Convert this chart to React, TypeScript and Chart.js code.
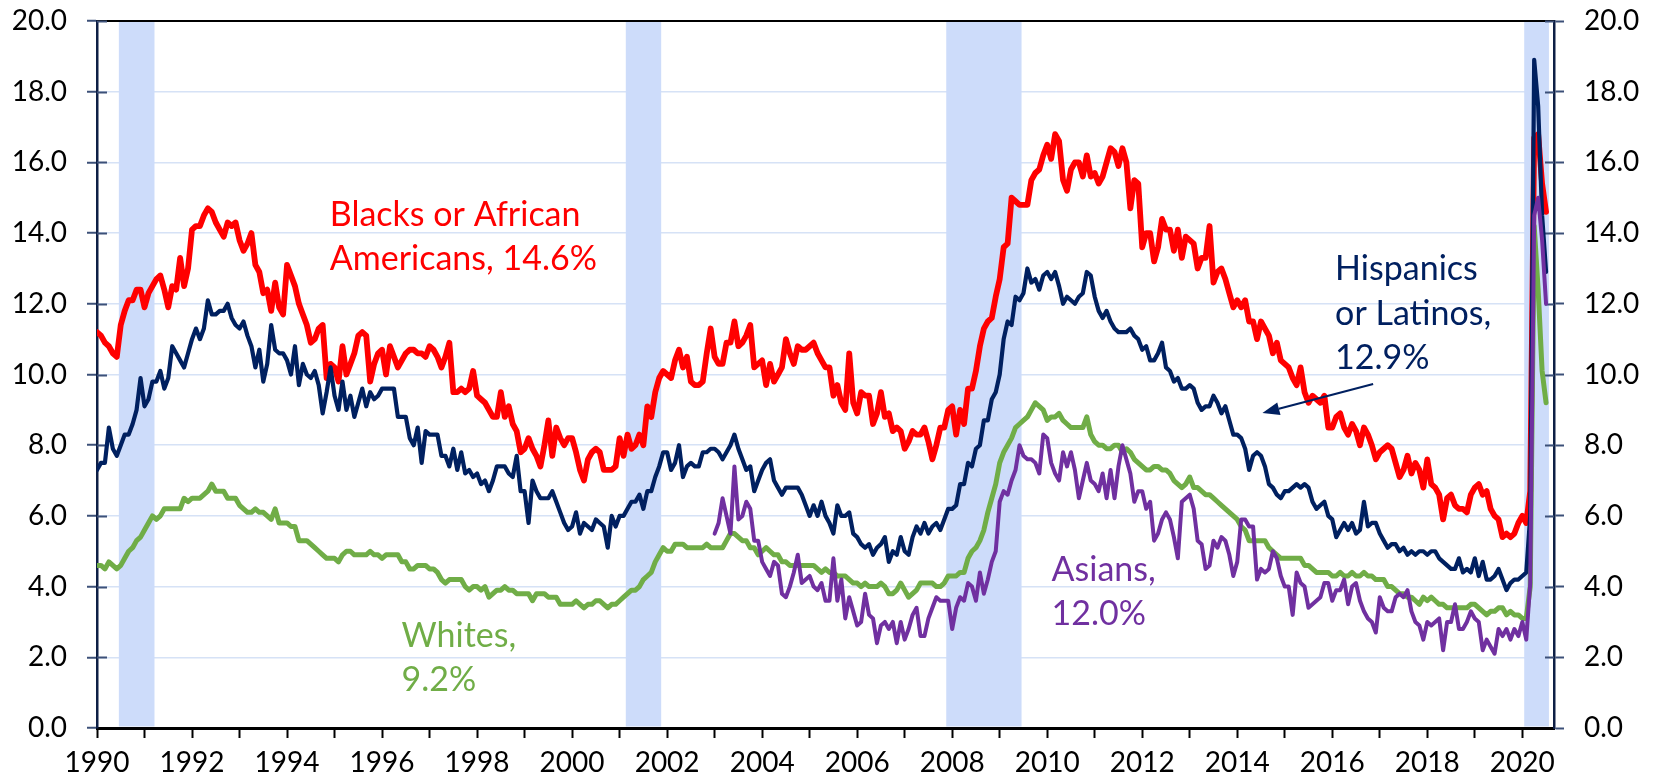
import React, { useEffect, useRef } from "react";
import { Chart, registerables } from "chart.js";

Chart.register(...registerables);

// ---------------- DATA (monthly, seasonally adjusted unemployment rate, %) ----------------
const START_YEAR = 1990; // Black, Hispanic, White series start Jan 1990
const ASIAN_START_YEAR = 2003; // Asian series starts Jan 2003

const blacks: number[] = [
  // 1990
  11.2, 11.1, 10.9, 10.8, 10.6, 10.5, 11.4, 11.8, 12.1, 12.1, 12.4, 12.4,
  // 1991
  11.9, 12.3, 12.5, 12.7, 12.8, 12.4, 11.9, 12.5, 12.4, 13.3, 12.5, 13.0,
  // 1992
  14.1, 14.2, 14.2, 14.5, 14.7, 14.6, 14.3, 14.1, 13.9, 14.3, 14.2, 14.3,
  // 1993
  13.8, 13.5, 13.7, 14.0, 13.1, 12.9, 12.3, 12.4, 11.8, 12.6, 11.9, 11.7,
  // 1994
  13.1, 12.8, 12.5, 12.0, 11.7, 11.4, 10.9, 11.0, 11.3, 11.4, 9.9, 10.3,
  // 1995
  10.2, 9.8, 10.8, 10.0, 10.3, 10.6, 11.1, 11.2, 11.1, 9.8, 10.3, 10.6,
  // 1996
  10.7, 10.0, 10.8, 10.5, 10.2, 10.4, 10.6, 10.7, 10.7, 10.6, 10.6, 10.5,
  // 1997
  10.8, 10.7, 10.5, 10.2, 10.5, 10.9, 9.5, 9.5, 9.6, 9.5, 9.6, 10.1,
  // 1998
  9.4, 9.3, 9.2, 9.0, 8.8, 8.8, 9.5, 8.8, 9.1, 8.6, 8.4, 7.8,
  // 1999
  7.9, 8.2, 7.9, 7.7, 7.4, 8.0, 8.7, 7.7, 8.5, 8.2, 8.0, 8.2,
  // 2000
  8.2, 7.8, 7.3, 7.0, 7.6, 7.8, 7.9, 7.8, 7.3, 7.3, 7.3, 7.4,
  // 2001
  8.2, 7.7, 8.3, 7.9, 8.0, 8.3, 8.0, 9.1, 8.8, 9.5, 9.9, 10.1,
  // 2002
  10.0, 9.9, 10.4, 10.7, 10.2, 10.5, 9.8, 9.7, 9.7, 9.8, 10.6, 11.3,
  // 2003
  10.5, 10.3, 10.3, 10.9, 10.9, 11.5, 10.8, 10.9, 11.1, 11.4, 10.2, 10.3,
  // 2004
  10.4, 9.7, 10.3, 9.8, 10.0, 10.2, 11.0, 10.6, 10.3, 10.8, 10.7, 10.7,
  // 2005
  10.8, 10.9, 10.6, 10.4, 10.2, 10.2, 9.4, 9.7, 9.2, 9.0, 10.6, 9.2,
  // 2006
  8.9, 9.5, 9.4, 9.4, 8.6, 8.9, 9.5, 8.8, 8.9, 8.4, 8.5, 8.4,
  // 2007
  7.9, 8.1, 8.4, 8.3, 8.3, 8.5, 8.1, 7.6, 8.0, 8.5, 8.5, 9.0,
  // 2008
  9.1, 8.3, 9.0, 8.6, 9.6, 9.6, 10.1, 10.8, 11.3, 11.5, 11.6, 12.2,
  // 2009
  12.7, 13.6, 13.7, 15.0, 14.9, 14.8, 14.8, 14.8, 15.5, 15.7, 15.8, 16.2,
  // 2010
  16.5, 16.1, 16.8, 16.6, 15.5, 15.2, 15.8, 16.0, 16.0, 15.6, 16.2, 15.6,
  // 2011
  15.7, 15.4, 15.6, 16.0, 16.4, 16.3, 15.9, 16.4, 16.0, 14.7, 15.5, 15.4,
  // 2012
  13.6, 14.0, 14.0, 13.2, 13.6, 14.4, 14.1, 14.1, 13.5, 14.1, 13.3, 13.9,
  // 2013
  13.8, 13.7, 13.0, 13.3, 13.3, 14.2, 12.6, 12.9, 13.0, 12.7, 12.3, 11.9,
  // 2014
  12.1, 11.9, 12.1, 11.5, 11.5, 11.0, 11.5, 11.3, 11.1, 10.6, 10.9, 10.4,
  // 2015
  10.3, 10.2, 9.9, 9.7, 10.2, 9.5, 9.2, 9.4, 9.3, 9.2, 9.4, 8.5,
  // 2016
  8.5, 8.8, 8.9, 8.5, 8.3, 8.6, 8.4, 8.0, 8.5, 8.3, 8.0, 7.6,
  // 2017
  7.8, 7.9, 8.0, 7.9, 7.5, 7.1, 7.3, 7.7, 7.2, 7.5, 7.3, 6.8,
  // 2018
  7.6, 6.9, 6.8, 6.6, 5.9, 6.5, 6.6, 6.3, 6.2, 6.2, 6.1, 6.6,
  // 2019
  6.8, 6.9, 6.6, 6.7, 6.2, 6.0, 5.9, 5.4, 5.5, 5.4, 5.5, 5.8,
  // 2020 (Jan-Jul)
  6.0, 5.8, 6.7, 16.7, 16.8, 15.4, 14.6,
];

const hispanics: number[] = [
  // 1990
  7.3, 7.5, 7.5, 8.5, 7.9, 7.7, 8.0, 8.3, 8.3, 8.6, 9.0, 9.9,
  // 1991
  9.1, 9.3, 9.8, 9.8, 10.1, 9.6, 9.9, 10.8, 10.6, 10.4, 10.2, 10.6,
  // 1992
  11.0, 11.3, 11.0, 11.3, 12.1, 11.7, 11.7, 11.8, 11.8, 12.0, 11.6, 11.4,
  // 1993
  11.3, 11.5, 11.1, 10.8, 10.2, 10.7, 9.8, 10.3, 11.4, 10.7, 10.6, 10.6,
  // 1994
  10.4, 10.0, 10.8, 9.7, 10.3, 10.0, 9.9, 10.1, 9.7, 8.9, 9.5, 10.2,
  // 1995
  9.4, 9.0, 9.8, 9.0, 9.4, 8.8, 9.2, 9.6, 9.1, 9.5, 9.3, 9.4,
  // 1996
  9.6, 9.6, 9.6, 9.6, 8.8, 8.8, 8.8, 8.2, 8.0, 8.5, 7.5, 8.4,
  // 1997
  8.3, 8.3, 8.3, 7.7, 7.7, 7.4, 7.9, 7.3, 7.8, 7.2, 7.3, 7.1,
  // 1998
  7.2, 6.9, 7.0, 6.7, 7.0, 7.4, 7.4, 7.4, 7.2, 7.1, 7.7, 6.7,
  // 1999
  6.7, 5.8, 7.0, 6.7, 6.5, 6.5, 6.5, 6.7, 6.4, 6.1, 5.8, 5.6,
  // 2000
  5.7, 6.1, 5.5, 5.8, 5.7, 5.6, 5.9, 5.8, 5.7, 5.1, 6.0, 5.7,
  // 2001
  6.0, 6.0, 6.2, 6.4, 6.4, 6.6, 6.2, 6.7, 6.7, 7.1, 7.4, 7.8,
  // 2002
  7.8, 7.3, 7.5, 8.0, 7.1, 7.4, 7.5, 7.4, 7.4, 7.8, 7.8, 7.9,
  // 2003
  7.9, 7.8, 7.6, 7.8, 8.0, 8.3, 7.9, 7.6, 7.3, 7.4, 6.7, 7.0,
  // 2004
  7.3, 7.5, 7.6, 7.0, 6.8, 6.6, 6.8, 6.8, 6.8, 6.8, 6.6, 6.3,
  // 2005
  6.0, 6.3, 6.0, 6.4, 6.0, 5.8, 5.5, 6.3, 6.0, 6.0, 6.1, 5.5,
  // 2006
  5.4, 5.2, 5.1, 5.2, 4.9, 5.1, 5.2, 5.4, 4.7, 5.0, 4.9, 5.4,
  // 2007
  5.0, 4.9, 5.4, 5.7, 5.5, 5.8, 5.5, 5.7, 5.8, 5.6, 5.9, 6.2,
  // 2008
  6.2, 6.3, 6.9, 6.9, 7.5, 7.4, 7.9, 8.0, 8.7, 8.7, 9.3, 9.5,
  // 2009
  10.0, 11.0, 11.5, 11.4, 12.2, 12.1, 12.3, 13.0, 12.6, 12.7, 12.4, 12.8,
  // 2010
  12.9, 12.7, 12.9, 12.5, 12.0, 12.2, 12.1, 12.0, 12.2, 12.3, 12.9, 12.8,
  // 2011
  12.2, 11.8, 11.6, 11.8, 11.5, 11.3, 11.2, 11.2, 11.2, 11.3, 11.1, 11.0,
  // 2012
  10.7, 10.8, 10.4, 10.4, 10.6, 10.9, 10.2, 10.1, 9.8, 9.9, 9.6, 9.6,
  // 2013
  9.7, 9.6, 9.2, 9.0, 9.1, 9.1, 9.4, 9.2, 8.9, 9.1, 8.7, 8.3,
  // 2014
  8.3, 8.2, 7.9, 7.3, 7.7, 7.8, 7.7, 7.4, 6.9, 6.8, 6.6, 6.5,
  // 2015
  6.7, 6.7, 6.8, 6.9, 6.8, 6.9, 6.8, 6.4, 6.2, 6.3, 6.4, 6.0,
  // 2016
  5.9, 5.4, 5.6, 5.8, 5.6, 5.8, 5.5, 5.6, 6.4, 5.7, 5.8, 5.8,
  // 2017
  5.5, 5.3, 5.1, 5.2, 5.2, 5.0, 5.1, 4.9, 5.0, 4.9, 5.0, 5.0,
  // 2018
  4.9, 5.0, 5.0, 4.8, 4.7, 4.6, 4.5, 4.5, 4.8, 4.4, 4.5, 4.4,
  // 2019
  4.8, 4.3, 4.7, 4.2, 4.2, 4.3, 4.5, 4.2, 3.9, 4.1, 4.2, 4.2,
  // 2020 (Jan-Jul)
  4.3, 4.4, 6.0, 18.9, 17.6, 14.5, 12.9,
];

const whites: number[] = [
  // 1990
  4.6, 4.6, 4.5, 4.7, 4.6, 4.5, 4.6, 4.8, 5.0, 5.1, 5.3, 5.4,
  // 1991
  5.6, 5.8, 6.0, 5.9, 6.0, 6.2, 6.2, 6.2, 6.2, 6.2, 6.5, 6.4,
  // 1992
  6.5, 6.5, 6.5, 6.6, 6.7, 6.9, 6.7, 6.7, 6.7, 6.5, 6.5, 6.5,
  // 1993
  6.3, 6.2, 6.1, 6.1, 6.2, 6.1, 6.1, 6.0, 5.9, 6.2, 5.8, 5.8,
  // 1994
  5.8, 5.7, 5.7, 5.3, 5.3, 5.3, 5.2, 5.1, 5.0, 4.9, 4.8, 4.8,
  // 1995
  4.8, 4.7, 4.9, 5.0, 5.0, 4.9, 4.9, 4.9, 4.9, 5.0, 4.9, 4.9,
  // 1996
  4.8, 4.9, 4.9, 4.9, 4.9, 4.7, 4.7, 4.5, 4.5, 4.6, 4.6, 4.6,
  // 1997
  4.5, 4.5, 4.4, 4.2, 4.1, 4.2, 4.2, 4.2, 4.2, 4.0, 3.9, 4.0,
  // 1998
  4.0, 3.9, 4.0, 3.7, 3.8, 3.9, 3.9, 4.0, 3.9, 3.9, 3.8, 3.8,
  // 1999
  3.8, 3.8, 3.6, 3.8, 3.8, 3.8, 3.7, 3.7, 3.7, 3.5, 3.5, 3.5,
  // 2000
  3.5, 3.6, 3.5, 3.4, 3.5, 3.5, 3.6, 3.6, 3.5, 3.4, 3.5, 3.5,
  // 2001
  3.6, 3.7, 3.8, 3.9, 3.9, 4.0, 4.2, 4.3, 4.4, 4.7, 4.9, 5.1,
  // 2002
  5.0, 5.0, 5.2, 5.2, 5.2, 5.1, 5.1, 5.1, 5.1, 5.1, 5.2, 5.1,
  // 2003
  5.1, 5.1, 5.1, 5.3, 5.5, 5.5, 5.4, 5.3, 5.3, 5.1, 5.1, 4.9,
  // 2004
  5.0, 5.1, 5.0, 4.9, 4.9, 4.7, 4.7, 4.6, 4.6, 4.6, 4.6, 4.6,
  // 2005
  4.6, 4.6, 4.5, 4.4, 4.5, 4.4, 4.4, 4.3, 4.3, 4.3, 4.2, 4.1,
  // 2006
  4.1, 4.0, 4.1, 4.0, 4.0, 4.0, 4.1, 4.0, 3.8, 3.8, 3.9, 4.1,
  // 2007
  3.9, 3.7, 3.8, 3.9, 4.1, 4.1, 4.1, 4.1, 4.0, 4.0, 4.1, 4.3,
  // 2008
  4.3, 4.3, 4.4, 4.4, 4.8, 5.0, 5.1, 5.3, 5.6, 6.1, 6.5, 6.9,
  // 2009
  7.5, 7.8, 8.0, 8.2, 8.5, 8.6, 8.7, 8.8, 9.0, 9.2, 9.1, 9.0,
  // 2010
  8.7, 8.8, 8.8, 8.9, 8.7, 8.6, 8.5, 8.5, 8.5, 8.5, 8.8, 8.3,
  // 2011
  8.1, 8.0, 8.0, 7.9, 7.9, 8.0, 8.0, 7.8, 7.9, 7.8, 7.6, 7.5,
  // 2012
  7.4, 7.3, 7.3, 7.4, 7.4, 7.3, 7.3, 7.2, 7.0, 6.9, 6.8, 6.9,
  // 2013
  7.1, 6.8, 6.8, 6.7, 6.6, 6.6, 6.5, 6.4, 6.3, 6.2, 6.1, 6.0,
  // 2014
  5.9, 5.7, 5.6, 5.3, 5.3, 5.3, 5.3, 5.3, 5.1, 5.0, 4.9, 4.8,
  // 2015
  4.8, 4.8, 4.8, 4.8, 4.8, 4.6, 4.6, 4.5, 4.4, 4.4, 4.4, 4.4,
  // 2016
  4.3, 4.3, 4.4, 4.3, 4.3, 4.4, 4.3, 4.3, 4.4, 4.3, 4.3, 4.2,
  // 2017
  4.2, 4.2, 4.0, 4.0, 3.9, 3.8, 3.8, 3.7, 3.7, 3.6, 3.5, 3.7,
  // 2018
  3.6, 3.7, 3.6, 3.5, 3.5, 3.4, 3.4, 3.4, 3.4, 3.4, 3.4, 3.5,
  // 2019
  3.5, 3.4, 3.3, 3.2, 3.3, 3.3, 3.4, 3.4, 3.2, 3.3, 3.2, 3.2,
  // 2020 (Jan-Jul)
  3.1, 3.1, 4.0, 14.2, 12.4, 10.1, 9.2,
];

const asians: number[] = [
  // 2003
  5.5, 5.8, 6.5, 6.0, 5.5, 7.4, 5.9, 6.0, 6.4, 6.2, 5.3, 5.3,
  // 2004
  4.7, 4.5, 4.3, 4.7, 4.6, 3.8, 3.7, 4.0, 4.4, 4.9, 4.1, 4.2,
  // 2005
  4.3, 4.0, 3.9, 4.1, 3.6, 3.6, 4.8, 3.6, 4.2, 3.1, 3.7, 3.3,
  // 2006
  2.9, 3.0, 3.8, 3.2, 3.1, 2.4, 2.9, 3.0, 2.8, 3.0, 2.4, 3.0,
  // 2007
  2.5, 2.8, 3.2, 3.4, 2.6, 2.6, 3.1, 3.4, 3.7, 3.6, 3.6, 3.6,
  // 2008
  2.8, 3.4, 3.7, 3.6, 4.1, 4.0, 3.6, 4.4, 3.8, 4.2, 4.7, 5.0,
  // 2009
  6.4, 6.7, 6.6, 7.0, 7.3, 8.0, 7.7, 7.6, 7.6, 7.5, 7.2, 8.3,
  // 2010
  8.2, 7.5, 7.2, 7.0, 7.8, 7.4, 7.8, 7.3, 6.5, 7.0, 7.5, 7.0,
  // 2011
  6.9, 6.7, 7.2, 6.5, 7.3, 6.5, 7.4, 8.0, 7.6, 7.2, 6.4, 6.7,
  // 2012
  6.7, 6.2, 6.4, 5.3, 5.5, 5.9, 6.1, 5.9, 5.4, 4.8, 6.4, 6.5,
  // 2013
  6.6, 6.2, 5.3, 5.2, 4.5, 4.6, 5.3, 5.1, 5.4, 5.3, 4.9, 4.3,
  // 2014
  4.7, 5.9, 5.9, 5.7, 5.7, 4.2, 4.5, 4.4, 4.5, 5.0, 4.8, 4.3,
  // 2015
  4.0, 4.0, 3.2, 4.4, 4.1, 4.0, 3.4, 3.5, 3.6, 3.7, 4.1, 4.1,
  // 2016
  3.6, 3.9, 3.9, 4.2, 3.5, 4.0, 4.1, 3.6, 3.3, 3.1, 3.0, 2.7,
  // 2017
  3.7, 3.4, 3.3, 3.3, 3.7, 3.8, 3.7, 3.9, 3.3, 3.0, 2.9, 2.5,
  // 2018
  3.0, 2.9, 3.0, 3.1, 2.2, 3.0, 3.0, 3.5, 2.8, 2.8, 3.0, 3.3,
  // 2019
  3.1, 3.0, 2.2, 2.5, 2.3, 2.1, 2.8, 2.6, 2.8, 2.5, 2.8, 2.6,
  // 2020 (Jan-Jul)
  3.0, 2.5, 4.1, 14.5, 15.0, 13.8, 12.0,
];

// Recession shading (decimal years, start/end)
const recessionStarts: number[] = [1990.46, 2001.13, 2007.875, 2020.04];
const recessionEnds: number[] = [1991.21, 2001.875, 2009.46, 2020.56];

// Axis settings
const X_MIN = 1990;
const X_MAX = 2020.667;
const X_LAST_TICK = 2020;
const Y_MIN = 0;
const Y_MAX = 20;
const Y_STEP = 2;

// Annotations (text anchored at data coordinates: left x, first baseline y)
const annotationTexts: string[][] = [
  ["Blacks or African", "Americans, 14.6%"],
  ["Hispanics", "or Latinos,", "12.9%"],
  ["Asians,", "12.0%"],
  ["Whites,", "9.2%"],
];
const annotationX: number[] = [1994.9, 2016.06, 2010.09, 1996.41];
const annotationY: number[] = [14.21, 12.67, 4.16, 2.3];

// Arrow for Hispanics label (from -> to, data coordinates)
const arrowFrom: [number, number] = [2016.86, 9.73];
const arrowTo: [number, number] = [2014.53, 8.91];

// ---------------- STYLE ----------------
const RED = "#ff0000";
const NAVY = "#002060";
const GREEN = "#70ad47";
const PURPLE = "#7030a0";
const BAND = "#cddcfa";
const GRID = "#d6e2f6";
const AXIS = "#0e1f45";
const TICK = "#3c5078";
const FONT = "Lato, 'Open Sans', sans-serif";
const annotationColors = [RED, NAVY, PURPLE, GREEN];

function toPoints(values: number[], startYear: number) {
  return values.map((v, i) => ({ x: startYear + i / 12, y: v }));
}

const decorPlugin = {
  id: "decor",
  beforeDatasetsDraw(chart: any) {
    const { ctx, chartArea: a, scales } = chart;
    const x = scales.x;
    const y = scales.y;
    ctx.save();
    // recession bands
    ctx.fillStyle = BAND;
    for (let i = 0; i < recessionStarts.length; i++) {
      const x0 = x.getPixelForValue(recessionStarts[i]);
      const x1 = x.getPixelForValue(recessionEnds[i]);
      ctx.fillRect(x0, a.top + 1, x1 - x0, a.bottom - a.top - 2.5);
    }
    // top border
    ctx.strokeStyle = "#000";
    ctx.lineWidth = 2;
    ctx.beginPath();
    ctx.moveTo(a.left, a.top);
    ctx.lineTo(a.right, a.top);
    ctx.stroke();
    // inner tick marks on both value axes
    ctx.strokeStyle = TICK;
    ctx.lineWidth = 2;
    for (const t of y.ticks) {
      const py = Math.round(y.getPixelForValue(t.value)) + 0.5;
      if (t.value === Y_MIN) continue;
      ctx.beginPath();
      ctx.moveTo(a.left, py);
      ctx.lineTo(a.left + 10, py);
      ctx.moveTo(a.right - 9, py);
      ctx.lineTo(a.right, py);
      ctx.stroke();
    }
    ctx.restore();
  },
  afterDatasetsDraw(chart: any) {
    const { ctx, scales } = chart;
    const x = scales.x;
    const y = scales.y;
    ctx.save();
    ctx.font = `34px ${FONT}`;
    ctx.textAlign = "left";
    ctx.textBaseline = "alphabetic";
    const lineGap = 44.5;
    annotationTexts.forEach((lines, i) => {
      ctx.fillStyle = annotationColors[i];
      const px = x.getPixelForValue(annotationX[i]);
      const py = y.getPixelForValue(annotationY[i]);
      lines.forEach((ln, j) => ctx.fillText(ln, px, py + j * lineGap));
    });
    // arrow
    const fx = x.getPixelForValue(arrowFrom[0]);
    const fy = y.getPixelForValue(arrowFrom[1]);
    const tx = x.getPixelForValue(arrowTo[0]);
    const ty = y.getPixelForValue(arrowTo[1]);
    const ang = Math.atan2(ty - fy, tx - fx);
    const headLen = 17;
    const headW = 6.5;
    const bx = tx - headLen * Math.cos(ang);
    const by = ty - headLen * Math.sin(ang);
    ctx.strokeStyle = NAVY;
    ctx.fillStyle = NAVY;
    ctx.lineWidth = 2.2;
    ctx.beginPath();
    ctx.moveTo(fx, fy);
    ctx.lineTo(bx, by);
    ctx.stroke();
    ctx.beginPath();
    ctx.moveTo(tx, ty);
    ctx.lineTo(bx + headW * Math.sin(ang), by - headW * Math.cos(ang));
    ctx.lineTo(bx - headW * Math.sin(ang), by + headW * Math.cos(ang));
    ctx.closePath();
    ctx.fill();
    ctx.restore();
  },
};

export default function App() {
  const canvasRef = useRef<HTMLCanvasElement | null>(null);

  useEffect(() => {
    let chart: Chart | null = null;
    let cancelled = false;
    const build = () => {
      if (cancelled || !canvasRef.current) return;
      Chart.defaults.font.family = FONT;
      const lineDs = (label: string, data: number[], start: number, color: string, width: number, order: number) => ({
        label,
        data: toPoints(data, start),
        borderColor: color,
        backgroundColor: color,
        borderWidth: width,
        pointRadius: 0,
        tension: 0,
        borderJoinStyle: "round" as const,
        borderCapStyle: "round" as const,
        fill: false,
        order,
        xAxisID: "x",
        yAxisID: "y",
      });
      const tickFont = { size: 28, family: FONT };
      const fitValueAxis = (width: number) => (s: any) => {
        s.width = width;
        s.paddingTop = 0;
        s.paddingBottom = 0;
      };
      chart = new Chart(canvasRef.current, {
        type: "line",
        data: {
          datasets: [
            lineDs("Asians", asians, ASIAN_START_YEAR, PURPLE, 4, 1),
            lineDs("Hispanics or Latinos", hispanics, START_YEAR, NAVY, 4.2, 2),
            lineDs("Whites", whites, START_YEAR, GREEN, 5, 3),
            lineDs("Blacks or African Americans", blacks, START_YEAR, RED, 5.8, 4),
          ],
        },
        options: {
          animation: false,
          responsive: false,
          devicePixelRatio: 1,
          layout: { padding: { top: 21, left: 0, right: 0, bottom: 0 } },
          plugins: {
            legend: { display: false },
            tooltip: { enabled: false },
          },
          scales: {
            x: {
              type: "linear",
              min: X_MIN,
              max: X_MAX,
              afterBuildTicks: (s: any) => {
                const t: { value: number }[] = [];
                for (let v = X_MIN; v <= X_LAST_TICK; v++) t.push({ value: v });
                s.ticks = t;
              },
              afterFit: (s: any) => {
                s.height = 55;
              },
              ticks: {
                stepSize: 1,
                includeBounds: false,
                autoSkip: false,
                maxRotation: 0,
                minRotation: 0,
                maxTicksLimit: 100,
                padding: 8,
                color: "#000",
                font: tickFont,
                callback: (v: any) => {
                  const n = Math.round(Number(v));
                  return n % 2 === 0 ? String(n) : "";
                },
              },
              grid: {
                drawOnChartArea: false,
                drawTicks: true,
                tickLength: 10,
                tickColor: "#000",
                tickWidth: 2,
                color: "#000",
              },
              border: { color: "#000", width: 3 },
            },
            y: {
              position: "left",
              min: Y_MIN,
              max: Y_MAX,
              afterFit: fitValueAxis(97),
              ticks: {
                stepSize: Y_STEP,
                padding: 20,
                color: "#000",
                font: tickFont,
                callback: (v: any) => Number(v).toFixed(1),
              },
              grid: {
                color: GRID,
                lineWidth: 1.5,
                tickLength: 10,
                tickColor: TICK,
                tickWidth: 2,
              },
              border: { color: AXIS, width: 2.5 },
            },
            y2: {
              position: "right",
              min: Y_MIN,
              max: Y_MAX,
              afterFit: fitValueAxis(101),
              ticks: {
                stepSize: Y_STEP,
                padding: 20,
                color: "#000",
                font: tickFont,
                callback: (v: any) => Number(v).toFixed(1),
              },
              grid: {
                drawOnChartArea: false,
                tickLength: 10,
                tickColor: TICK,
                tickWidth: 2,
              },
              border: { color: AXIS, width: 2.5 },
            },
          },
        },
        plugins: [decorPlugin],
      } as any);
    };
    const fontsApi: any = (document as any).fonts;
    if (fontsApi && fontsApi.load) {
      Promise.all([fontsApi.load(`28px Lato`), fontsApi.load(`34px Lato`)])
        .catch(() => null)
        .then(build);
    } else {
      build();
    }
    return () => {
      cancelled = true;
      if (chart) chart.destroy();
    };
  }, []);

  return (
    <div style={{ position: "fixed", left: 0, top: 0, width: 1655, height: 783, background: "#fff" }}>
      <canvas ref={canvasRef} width={1655} height={783} style={{ display: "block", width: 1655, height: 783 }} />
    </div>
  );
}
